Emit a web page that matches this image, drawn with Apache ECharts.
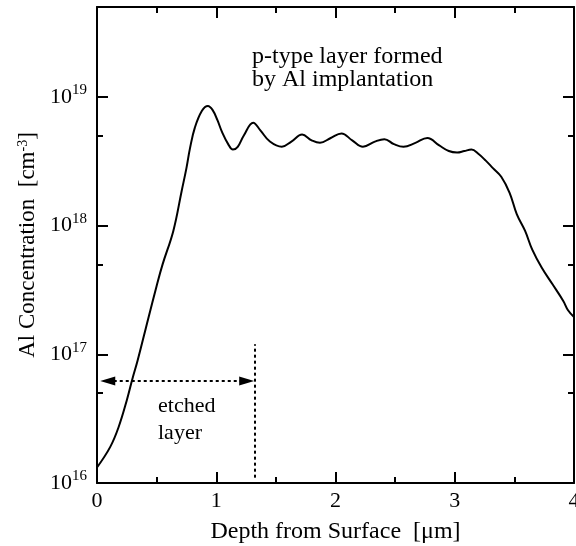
<!DOCTYPE html>
<html>
<head>
<meta charset="utf-8">
<script src="https://cdn.jsdelivr.net/npm/echarts@6/dist/echarts.min.js"></script>
</head>
<body style="margin:0">
<div id="main" style="width:576px;height:546px;"></div>
<script>
// depth in um, Al concentration in cm^-3
var depth = [0.00, 0.11, 0.18, 0.25, 0.30, 0.34, 0.43, 0.50, 0.55, 0.64, 0.71, 0.75, 0.78, 0.82, 0.88, 0.93,
             0.97, 1.01, 1.05, 1.10, 1.14, 1.18, 1.23, 1.31, 1.37, 1.45, 1.55, 1.63, 1.72, 1.80, 1.87, 1.96,
             2.05, 2.14, 2.23, 2.33, 2.41, 2.49, 2.57, 2.67, 2.77, 2.87, 2.95, 3.02, 3.08, 3.14, 3.20,
             3.26, 3.32, 3.39, 3.46, 3.52, 3.59, 3.65, 3.73, 3.82, 3.91, 3.95, 4.00];
var conc = [1.32e16, 1.9e16, 2.7e16, 4.4e16, 6.6e16, 8.9e16, 1.9e17, 3.4e17, 5.0e17, 9.1e17, 1.86e18, 2.8e18, 4.0e18, 5.75e18, 7.8e18, 8.5e18,
            7.9e18, 6.6e18, 5.3e18, 4.3e18, 3.9e18, 4.1e18, 5.0e18, 6.3e18, 5.5e18, 4.5e18, 4.1e18, 4.5e18, 5.1e18, 4.6e18, 4.4e18, 4.8e18,
            5.2e18, 4.6e18, 4.1e18, 4.5e18, 4.7e18, 4.3e18, 4.1e18, 4.4e18, 4.8e18, 4.2e18, 3.8e18, 3.7e18, 3.8e18, 3.9e18, 3.6e18,
            3.2e18, 2.8e18, 2.4e18, 1.8e18, 1.23e18, 9.1e17, 6.5e17, 4.7e17, 3.5e17, 2.6e17, 2.2e17, 1.95e17];
var xTicks = [0, 1, 2, 3, 4];
var yDecades = [16, 17, 18, 19];
var yMinor = [5e16, 5e17, 5e18];
var yMax = 5e19;

// etched layer annotation
var etchDepth = 1.32;
var arrowFrom = 0.09, arrowTo = 1.255;
var arrowConc = 6.2e16;
var etchLine = [1.1e16, 1.2e17];

var font = 'Liberation Serif';
var lg = function (v) { return Math.log10(v); };
var minorLog = yMinor.map(lg);

function yAxisDef(pos, major) {
    return {
        type: 'value', position: pos, min: 16, max: lg(yMax),
        splitLine: { show: false },
        axisLine: { show: major, lineStyle: { color: '#000', width: 2 } },
        axisTick: {
            show: true, inside: true, length: major ? 11 : 6,
            customValues: major ? yDecades : minorLog,
            lineStyle: { color: '#000', width: 2 }
        },
        axisLabel: {
            show: major && pos === 'left',
            customValues: yDecades, margin: 10,
            formatter: function (v) { return '{b|10}{s|' + v + '}'; },
            rich: {
                b: { fontFamily: font, fontSize: 22, lineHeight: 28, color: '#000' },
                s: { fontFamily: font, fontSize: 15, lineHeight: 15, verticalAlign: 'top', color: '#000' }
            }
        },
        name: major && pos === 'left' ? 'Al Concentration  [cm{s|-3}]' : '',
        nameLocation: 'middle', nameGap: 57,
        nameTextStyle: {
            fontFamily: font, fontSize: 23, color: '#000',
            rich: { s: { fontFamily: font, fontSize: 14, lineHeight: 14, verticalAlign: 'top', color: '#000' } }
        }
    };
}

function xAxisDef(pos) {
    return {
        type: 'value', position: pos, min: 0, max: 4, interval: 1,
        splitLine: { show: false },
        axisLine: { lineStyle: { color: '#000', width: 2 } },
        axisTick: { inside: true, length: 11, lineStyle: { color: '#000', width: 2 } },
        minorTick: { show: true, splitNumber: 2, length: 6, lineStyle: { color: '#000', width: 2 } },
        axisLabel: {
            show: pos === 'bottom', margin: 7,
            fontFamily: font, fontSize: 22, color: '#000',
            formatter: function (v) { return xTicks.indexOf(v) >= 0 ? String(v) : ''; }
        },
        name: pos === 'bottom' ? 'Depth from Surface  [\u03bcm]' : '',
        nameLocation: 'middle', nameGap: 37,
        nameTextStyle: { fontFamily: font, fontSize: 24, color: '#000' }
    };
}

var myChart = echarts.init(document.getElementById('main'));
var option = {
    backgroundColor: '#fff',
    animation: false,
    grid: { left: 97, right: 2, top: 7, bottom: 63, outerBoundsMode: 'none', containLabel: false },
    xAxis: [xAxisDef('bottom'), xAxisDef('top')],
    yAxis: [yAxisDef('left', true), yAxisDef('left', false), yAxisDef('right', true), yAxisDef('right', false)],
    graphic: [
        {
            type: 'text', left: 252, top: 45,
            style: { text: 'p-type layer formed\nby Al implantation', fontFamily: font, fontSize: 24, lineHeight: 23, fill: '#000' }
        },
        {
            type: 'text', left: 158, top: 393,
            style: { text: 'etched\nlayer', fontFamily: font, fontSize: 22, lineHeight: 27, fill: '#000' }
        }
    ],
    series: [{
        type: 'line',
        smooth: 0.4,
        symbol: 'none',
        lineStyle: { color: '#000', width: 2 },
        data: depth.map(function (d, i) { return [d, lg(conc[i])]; }),
        markLine: {
            silent: true,
            symbol: ['none', 'none'],
            label: { show: false },
            lineStyle: { color: '#000', width: 2, type: [3, 3] },
            data: [
                [
                    { coord: [arrowFrom, lg(arrowConc)], symbol: 'triangle', symbolSize: [9, 15] },
                    { coord: [arrowTo, lg(arrowConc)], symbol: 'triangle', symbolSize: [9, 15] }
                ],
                [
                    { coord: [etchDepth, lg(etchLine[0])] },
                    { coord: [etchDepth, lg(etchLine[1])] }
                ]
            ]
        }
    }]
};
myChart.setOption(option);
</script>
</body>
</html>
